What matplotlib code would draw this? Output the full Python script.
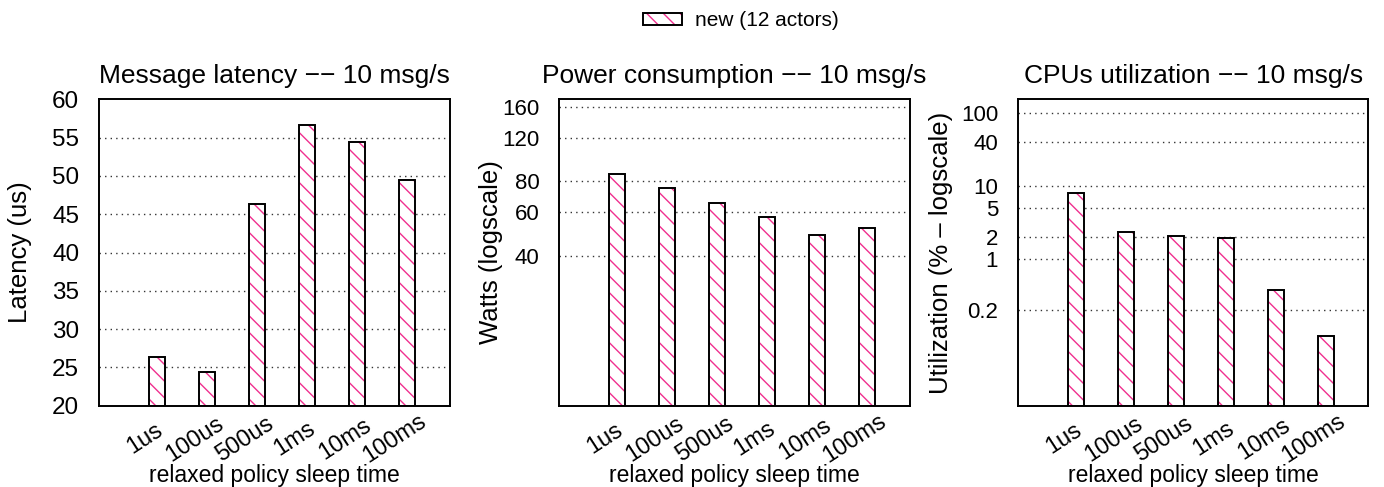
import numpy as np
import matplotlib
matplotlib.use('Agg')
import matplotlib.pyplot as plt
from matplotlib.patches import Patch
from matplotlib.transforms import ScaledTranslation

plt.rcParams['font.family'] = ['Liberation Sans', 'DejaVu Sans']
plt.rcParams['hatch.linewidth'] = 1.0

# data
sleep_times = ['1us', '100us', '500us', '1ms', '10ms', '100ms']
latency_us = [26.4, 24.4, 46.3, 56.6, 54.4, 49.5]
power_watts = [85.7, 75.0, 65.6, 57.5, 48.5, 51.7]
cpu_util = [8.0, 2.36, 2.08, 1.95, 0.378, 0.088]

lat_ticks = [20, 25, 30, 35, 40, 45, 50, 55, 60]
pow_ticks = [40, 60, 80, 120, 160]
cpu_ticks = [0.2, 1, 2, 5, 10, 40, 100]

pink = '#f0308f'
x = np.arange(len(sleep_times))
bw = 0.32

fig = plt.figure(figsize=(13.84, 4.87), dpi=100)

lefts = [0.0713, 0.4037, 0.7353]
axes = [fig.add_axes([l, 0.167, 0.2535, 0.629]) for l in lefts]

panels = [
    (latency_us, 'Message latency \u2212\u2212 10 msg/s', 'Latency (us)', lat_ticks, (20, 60), False, -0.19, 17.5),
    (power_watts, 'Power consumption \u2212\u2212 10 msg/s', 'Watts (logscale)', pow_ticks, (10, 171), True, -0.158, 16),
    (cpu_util, 'CPUs utilization \u2212\u2212 10 msg/s', 'Utilization (% \u2013 logscale)', cpu_ticks, (0.01, 152), True, -0.183, 16),
]

# shift of rotated tick labels (gnuplot puts them a bit left of the tick)
shift = ScaledTranslation(-12 / 100, 0, fig.dpi_scale_trans)

for ax, (vals, title, ylab, ticks, ylim, logy, lx, tfs) in zip(axes, panels):
    if logy:
        ax.set_yscale('log')
    bottom = ylim[0]
    h = np.array(vals) - bottom
    # hatch in pink, outline in black
    ax.bar(x, h, bw, bottom=bottom, color='white', edgecolor=pink, hatch='\\\\', linewidth=0, zorder=2)
    ax.bar(x, h, bw, bottom=bottom, facecolor='none', edgecolor='black', linewidth=1.4, zorder=3)
    ax.set_ylim(*ylim)
    ax.set_xlim(-1.17, 5.86)
    ax.set_yticks(ticks)
    ax.set_yticklabels([str(t) for t in ticks], fontsize=tfs)
    ax.minorticks_off()
    ax.set_xticks(x)
    ax.tick_params(axis='y', length=0, pad=14)
    ax.tick_params(axis='x', length=0, pad=24)
    ax.set_xticklabels(sleep_times, fontsize=17, rotation=33, ha='center', va='center',
                       rotation_mode='anchor')
    for lab in ax.get_xticklabels():
        lab.set_transform(lab.get_transform() + shift)
    for t in ticks:
        if ylim[0] < t < ylim[1] * 0.99 and not (not logy and t in (20, 60)):
            ax.axhline(t, color='#333333', linestyle=(0, (1, 3)), linewidth=1, zorder=1)
    for s in ax.spines.values():
        s.set_linewidth(1.4)
    ax.set_title(title, fontsize=19, pad=12)
    ax.set_ylabel(ylab, fontsize=18.5)
    ax.yaxis.set_label_coords(lx, 0.5)
    ax.set_xlabel('relaxed policy sleep time', fontsize=16.5)
    ax.xaxis.set_label_coords(0.5, -0.19)

hatch_patch = Patch(facecolor='white', edgecolor=pink, hatch='\\\\', linewidth=0)
frame_patch = Patch(facecolor='none', edgecolor='black', linewidth=1.4)
fig.legend([(hatch_patch, frame_patch)], ['new (12 actors)'], loc='upper center',
           bbox_to_anchor=(0.535, 1.015), frameon=False, fontsize=15,
           handlelength=1.9, handleheight=0.55, handletextpad=0.6)

fig.savefig('out.png', dpi=100)
